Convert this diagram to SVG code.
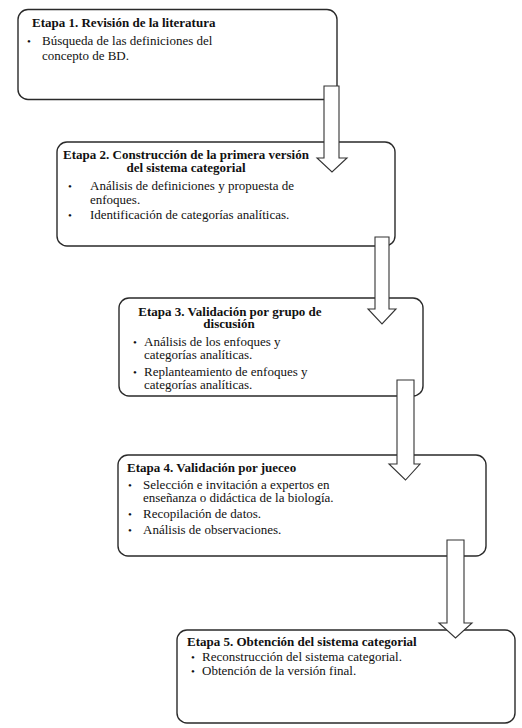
<svg xmlns="http://www.w3.org/2000/svg" width="522" height="728" viewBox="0 0 522 728">
<style>
.box{fill:#fff;stroke:#2a2a2a;stroke-width:1.4}
.arr{fill:#fff;stroke:#333;stroke-width:1.1;stroke-linejoin:miter}
text{font-family:"Liberation Serif","Times New Roman",serif;font-size:13px;fill:#111}
.t{font-weight:bold}
.b{font-size:11px}
</style>
<rect width="522" height="728" fill="#fff"/>
<g id="node1">
<rect class="box" x="18" y="9.5" width="319" height="90" rx="10"/>
<text class="t" x="32" y="27">Etapa 1. Revisión de la literatura</text>
<text class="b" x="27" y="45">•</text>
<text x="42" y="45">Búsqueda de las definiciones del</text>
<text x="42" y="60">concepto de BD.</text>
</g>
<g id="node2">
<rect class="box" x="57" y="142" width="338" height="104" rx="10"/>
<text class="t" x="186" y="158.5" text-anchor="middle">Etapa 2. Construcción de la primera versión</text>
<text class="t" x="186" y="172" text-anchor="middle">del sistema categorial</text>
<text class="b" x="68" y="190">•</text>
<text x="90" y="190">Análisis de definiciones y propuesta de</text>
<text x="90" y="203.5">enfoques.</text>
<text class="b" x="68" y="219">•</text>
<text x="90" y="219">Identificación de categorías analíticas.</text>
</g>
<g id="node3">
<rect class="box" x="119" y="298" width="304" height="98" rx="10"/>
<text class="t" x="230" y="315.5" text-anchor="middle">Etapa 3. Validación por grupo de</text>
<text class="t" x="229" y="328" text-anchor="middle">discusión</text>
<text class="b" x="133" y="345.5">•</text>
<text x="144" y="345.5">Análisis de los enfoques y</text>
<text x="144" y="358.5">categorías analíticas.</text>
<text class="b" x="133" y="375.5">•</text>
<text x="144" y="375.5">Replanteamiento de enfoques y</text>
<text x="144" y="388.5">categorías analíticas.</text>
</g>
<g id="node4">
<rect class="box" x="118" y="455" width="368" height="101" rx="10"/>
<text class="t" x="127" y="471.5">Etapa 4. Validación por jueceo</text>
<text class="b" x="128" y="489">•</text>
<text x="143" y="489">Selección e invitación a expertos en</text>
<text x="143" y="502">enseñanza o didáctica de la biología.</text>
<text class="b" x="128" y="518">•</text>
<text x="143" y="518">Recopilación de datos.</text>
<text class="b" x="128" y="534">•</text>
<text x="143" y="534">Análisis de observaciones.</text>
</g>
<g id="node5">
<rect class="box" x="177" y="630" width="338" height="93" rx="10"/>
<text class="t" x="187" y="646">Etapa 5. Obtención del sistema categorial</text>
<text class="b" x="191" y="661">•</text>
<text x="202" y="661">Reconstrucción del sistema categorial.</text>
<text class="b" x="191" y="675">•</text>
<text x="202" y="675">Obtención de la versión final.</text>
</g>
<g id="connectors">
<polygon class="arr" points="324,86 339,86 339,158 347,158 332,172 317,158 324,158"/>
<polygon class="arr" points="375,237 389,237 389,309 396,309 382,324 368,309 375,309"/>
<polygon class="arr" points="397,380 414,380 414,464 420,464 405.5,480 389,464 397,464"/>
<polygon class="arr" points="447,540 464,540 464,623 472,623 455.5,638 439,623 447,623"/>
</g>
</svg>
